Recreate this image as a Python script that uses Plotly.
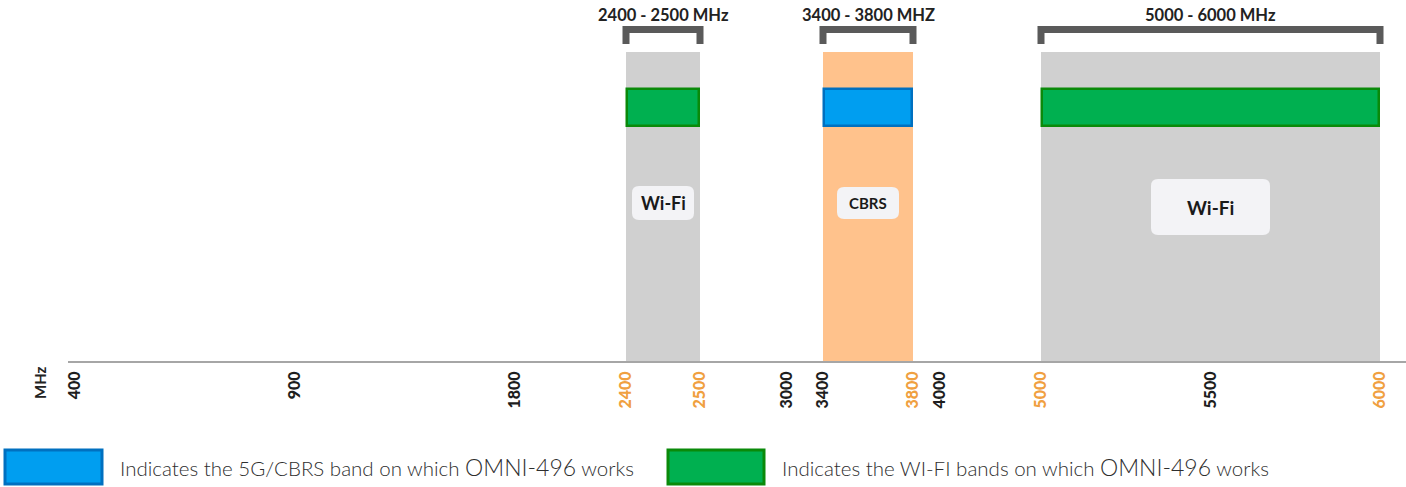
import numpy as np
import plotly.graph_objects as go

# ---- data ----
tick_freqs = [400, 900, 1800, 2400, 2500, 3000, 3400, 3800, 4000, 5000, 5500, 6000]
tick_slots = [0, 220, 440, 551, 625, 712, 748, 838, 865, 966, 1136, 1305]  # piecewise axis scale
tick_highlight = [False, False, False, True, True, False, False, True, False, True, False, True]

band_start = [2400, 3400, 5000]
band_end = [2500, 3800, 6000]
band_names = ["Wi-Fi", "CBRS", "Wi-Fi"]
band_titles = ["2400 - 2500 MHz", "3400 - 3800 MHZ", "5000 - 6000 MHz"]
band_kind = ["wifi", "cbrs", "wifi"]

legend_texts = [
    "Indicates the 5G/CBRS band on which <span style='font-size:23px'>OMNI-496</span> works",
    "Indicates the WI-FI bands on which <span style='font-size:23px'>OMNI-496</span> works",
]


def fx(f):
    return float(np.interp(f, tick_freqs, tick_slots))


W, H = 1406, 487
ML, MT, MB = 68, 0, 126
PW, PH = W - ML, H - MT - MB


def px(x):
    return (x - ML) / PW


def py(y):
    return (MT + PH - y) / PH


GRAY = "#D0D0D0"
ORANGE = "#FFC28C"
GREEN = "#00B050"
GREEN_LINE = "#0A8A0A"
BLUE = "#009EF0"
BLUE_LINE = "#0070C0"
TICK_ORANGE = "#F0A040"
FONT = "Lato"

fig = go.Figure()

x0s = [fx(f) for f in band_start]
x1s = [fx(f) for f in band_end]
centers = [(a + b) / 2 for a, b in zip(x0s, x1s)]
widths = [b - a for a, b in zip(x0s, x1s)]

# background bands
fig.add_trace(go.Bar(
    x=centers, width=widths, base=[0, 0, 0], y=[309, 309, 309],
    marker=dict(color=[ORANGE if k == "cbrs" else GRAY for k in band_kind], line=dict(width=0)),
    showlegend=False, hoverinfo="skip"))

# working bands
fig.add_trace(go.Bar(
    x=centers, width=[w - 2 for w in widths], base=[235, 235, 235], y=[37, 37, 37],
    marker=dict(color=[BLUE if k == "cbrs" else GREEN for k in band_kind],
                line=dict(width=2.5, color=[BLUE_LINE if k == "cbrs" else GREEN_LINE for k in band_kind])),
    showlegend=False, hoverinfo="skip"))


def rrect(x0, y0, x1, y1, r):
    return (f"M {x0+r},{y0} L {x1-r},{y0} Q {x1},{y0} {x1},{y0+r} L {x1},{y1-r} "
            f"Q {x1},{y1} {x1-r},{y1} L {x0+r},{y1} Q {x0},{y1} {x0},{y1-r} "
            f"L {x0},{y0+r} Q {x0},{y0} {x0+r},{y0} Z")


shapes = []
annotations = []
box_sizes = [(62, 34, 18), (62, 32, 15), (119, 56, 19)]
box_cy = [158, 158, 154]
for i in range(3):
    bw, bh, fs = box_sizes[i]
    cx = centers[i]
    cy = box_cy[i]
    shapes.append(dict(type="path", xref="x", yref="y",
                       path=rrect(cx - bw / 2, cy - bh / 2, cx + bw / 2, cy + bh / 2, 7),
                       fillcolor="#F3F3F6", line=dict(width=0), layer="above"))
    annotations.append(dict(x=cx, y=cy, xref="x", yref="y", text=f"<b>{band_names[i]}</b>",
                            showarrow=False, font=dict(family=FONT, size=fs, color="#1a1a1a")))
    # bracket
    shapes.append(dict(type="path", xref="x", yref="y",
                       path=f"M {x0s[i]},317 L {x0s[i]},331.5 L {x1s[i]},331.5 L {x1s[i]},317",
                       line=dict(color="#5A5A5A", width=7), fillcolor="rgba(0,0,0,0)"))
    annotations.append(dict(x=centers[i], y=346, xref="x", yref="y", text=f"<b>{band_titles[i]}</b>",
                            showarrow=False, font=dict(family=FONT, size=16.5, color="#222222")))

# MHz label
annotations.append(dict(x=px(40), y=py(383), xref="paper", yref="paper", text="<b>MHz</b>", textangle=-90,
                        xanchor="center", yanchor="middle",
                        showarrow=False, font=dict(family=FONT, size=15, color="#222222")))

# custom legend
legend_boxes = [(5, 102, BLUE, BLUE_LINE), (668, 764, GREEN, GREEN_LINE)]
legend_text_x = [118, 780]
for (lx0, lx1, fc, lc), tx, txt in zip(legend_boxes, legend_text_x, legend_texts):
    shapes.append(dict(type="rect", xref="paper", yref="paper", x0=px(lx0), x1=px(lx1),
                       y0=py(484), y1=py(450), fillcolor=fc, line=dict(color=lc, width=3)))
    annotations.append(dict(x=px(tx), y=py(467), xref="paper", yref="paper", text=txt,
                            xanchor="left", yanchor="middle",
                            showarrow=False, font=dict(family=FONT, size=20.5, color="#2e2e2e", weight=300)))

ticktext = [f"<span style='color:{TICK_ORANGE}'>{f}</span>" if h else f"{f}"
            for f, h in zip(tick_freqs, tick_highlight)]

fig.update_layout(
    width=W, height=H,
    margin=dict(l=ML, r=0, t=MT, b=MB, autoexpand=False),
    paper_bgcolor="white", plot_bgcolor="white",
    barmode="overlay", bargap=0,
    shapes=shapes, annotations=annotations,
    xaxis=dict(range=[-7, 1331], tickvals=tick_slots, ticktext=ticktext, tickangle=-90,
               tickfont=dict(family=FONT, size=16, color="#1e1e1e", weight=900),
               showline=True, linecolor="#A6A6A6", linewidth=2, showgrid=False, zeroline=False,
               ticks="", ticklabelstandoff=2, fixedrange=True),
    yaxis=dict(range=[0, 361], visible=False, fixedrange=True),
    showlegend=False,
)

fig.write_html("out.html", config={"displayModeBar": False},
               post_script="document.body.style.margin='0';")
